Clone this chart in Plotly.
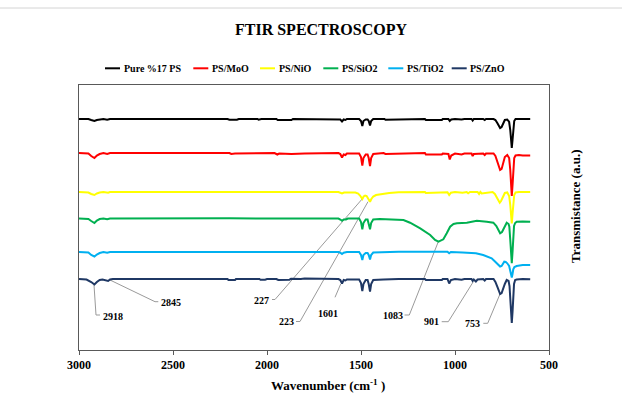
import plotly.graph_objects as go

# ---------------- data ----------------
series_names = ["Pure %17 PS", "PS/MoO", "PS/NiO", "PS/SiO2", "PS/TiO2", "PS/ZnO"]
series_colors = ["#000000", "#FF0000", "#FFFF00", "#00B050", "#00B0F0", "#1F3864"]

black_wn = [3000, 2950, 2935, 2918, 2905, 2890, 2870, 2850, 2835, 2210, 2200, 2160, 2150, 2050, 2045, 2030,
            1950, 1943, 1870, 1862, 1800, 1795, 1620, 1610, 1601, 1592, 1583, 1575, 1510, 1500, 1493, 1487,
            1475, 1465, 1459, 1452, 1446, 1435, 1375, 1370, 1160, 1155, 1070, 1065, 1035, 1028, 1020, 1000,
            965, 950, 912, 906, 900, 850, 842, 835, 795, 785, 775, 768, 760, 752, 745, 735, 722, 712, 706,
            702, 698, 694, 690, 685, 678, 660, 640, 600]
black_t = [231, 231, 230, 229, 230, 230.5, 231, 230.3, 231, 231, 230.3, 230.3, 231, 231, 230.3, 231,
           231, 230, 230, 231, 231, 230.5, 231, 230.5, 228.5, 230.5, 230, 231, 231, 229, 224, 229,
           230.5, 230.5, 229, 224.5, 229, 231, 231, 230.3, 231, 230, 230, 231, 231, 229, 230.5, 231,
           230.5, 231, 231, 229.5, 231, 231, 230, 231, 231, 230, 227, 224, 222, 223, 226, 230, 230.5, 228, 220,
           210, 202, 210, 222, 229, 231, 231, 231, 231]

red_wn = [3000, 2950, 2935, 2918, 2905, 2890, 2870, 2850, 2835, 2200, 2190, 2170, 1960, 1945, 1935, 1870,
          1800, 1620, 1610, 1601, 1592, 1583, 1575, 1510, 1500, 1493, 1487, 1475, 1465, 1459, 1452, 1446,
          1435, 1380, 1370, 1300, 1160, 1155, 1070, 1065, 1035, 1028, 1020, 1000, 965, 950, 912, 906, 900,
          850, 842, 835, 795, 785, 775, 768, 760, 752, 745, 735, 722, 712, 706, 702, 698, 694, 690, 685,
          678, 660, 640, 600]
red_t = [197, 196.5, 194, 192, 194.5, 196, 197, 196, 197, 197, 196, 196.5, 197, 195.5, 196.5, 196,
         196.5, 197, 196, 192.5, 195.5, 195, 196.5, 196.5, 193, 184.5, 192, 195.5, 195.5, 192, 184, 192,
         196, 197, 196, 196.5, 197, 195.5, 195.5, 196.5, 196, 190.5, 194.5, 196.5, 195.5, 196.5, 196.5, 194, 196,
         196.5, 195, 196.5, 196.5, 194, 188, 183, 180, 181, 186, 193, 195, 192, 180, 165, 154, 165, 182, 192,
         194.5, 195, 194.5, 194.5]

yellow_wn = [3000, 2950, 2935, 2918, 2905, 2890, 2870, 2845, 2835, 2200, 2160, 2100, 1940, 1935, 1800,
             1620, 1601, 1590, 1530, 1515, 1505, 1493, 1486, 1478, 1470, 1460, 1452, 1445, 1435, 1420, 1390,
             1350, 1300, 1160, 1155, 1040, 1031, 1022, 1000, 960, 938, 930, 920, 880, 872, 865, 858, 800,
             788, 775, 768, 762, 755, 745, 735, 722, 712, 706, 702, 698, 694, 690, 685, 678, 660, 600]
yellow_t = [158, 157.5, 156, 155, 156.5, 157.5, 158, 157.3, 158, 158, 157.5, 158, 158, 157.3, 157.5,
            158, 156.5, 157.5, 157.5, 156.5, 154.5, 151, 153.5, 154.5, 154, 151, 148.3, 151, 153.5, 155, 156,
            157, 157.7, 158, 157, 157.7, 155, 157.3, 158, 157.3, 158, 156.7, 158, 158, 156, 158, 156.5, 158,
            156, 151, 148, 147.3, 149, 154, 157, 157.5, 154, 145, 135, 126.7, 136, 148, 155, 157.5, 158, 158]

green_wn = [3000, 2950, 2935, 2918, 2905, 2890, 2870, 2850, 2835, 2600, 2400, 2200, 2000, 1620, 1610,
            1601, 1592, 1580, 1570, 1510, 1500, 1493, 1487, 1475, 1465, 1459, 1452, 1446, 1435, 1400, 1345,
            1274, 1239, 1185, 1132, 1106, 1088, 1062, 1044, 1026, 1008, 990, 937, 884, 831, 796, 780, 769,
            760, 750, 743, 735, 725, 715, 711, 706, 702, 698, 694, 690, 686, 680, 672, 640, 600]
green_t = [131.5, 131, 129, 127, 129.5, 131, 131.5, 130.8, 131.5, 131.8, 131.5, 131.8, 131.5, 131.5, 130.5,
           129.3, 130.5, 130.5, 131.5, 131.5, 128, 120.7, 127, 130.5, 130.5, 127, 120.7, 127, 130.5, 131, 130.5,
           130, 127.3, 121.7, 115, 110, 108.3, 110.7, 116.7, 123.3, 126, 126.7, 127.3, 129.3, 128.3, 127.3, 124, 120,
           116.7, 118, 120.7, 125, 127.3, 126, 123.3, 110, 97, 86.7, 98, 115, 124, 127, 128.3, 128.5, 128.3]

cyan_wn = [3000, 2950, 2935, 2918, 2905, 2890, 2870, 2850, 2835, 2200, 2150, 1900, 1800, 1620, 1610, 1601,
           1592, 1575, 1510, 1500, 1493, 1487, 1475, 1465, 1459, 1452, 1446, 1435, 1300, 1160, 1100, 1040,
           1031, 1022, 960, 889, 850, 805, 790, 775, 767, 760, 752, 745, 738, 730, 722, 712, 706, 702, 698,
           694, 690, 684, 672, 640, 600]
cyan_t = [98, 97.5, 95, 93.5, 95.5, 97, 98, 97.3, 98, 98.3, 98, 98.3, 98, 98, 97.3, 96,
          97.3, 98, 98, 95, 90, 95, 97, 97, 95, 90.5, 95, 97.5, 98.3, 98.3, 98.5, 98.3,
          96.7, 98, 97.5, 96.7, 95, 91.7, 89, 86, 84, 83.5, 84, 86, 88.3, 88, 86.7, 84, 80, 76, 72.5,
          76, 80.7, 83, 84, 85, 85]

navy_wn = [3000, 2960, 2935, 2918, 2905, 2890, 2875, 2860, 2845, 2835, 2820, 2210, 2205, 2170, 2165, 2040,
           2035, 2010, 2000, 1950, 1940, 1880, 1872, 1820, 1800, 1620, 1610, 1601, 1592, 1583, 1575, 1510,
           1500, 1493, 1487, 1475, 1465, 1459, 1452, 1446, 1435, 1380, 1300, 1160, 1155, 1070, 1065, 1040,
           1031, 1022, 1000, 965, 950, 912, 906, 900, 889, 880, 850, 842, 835, 795, 785, 775, 767, 760, 752,
           745, 735, 725, 715, 710, 706, 702, 698, 694, 690, 686, 680, 672, 640, 600]
navy_t = [71, 70.5, 68, 65.5, 68, 70, 70.5, 69.5, 69, 70.5, 71, 71, 70, 70, 71, 71,
          70.3, 70.3, 71, 71, 70, 70.3, 71.3, 71, 71.5, 71, 70, 66.5, 70, 69.5, 70.5, 70.5,
          67, 59, 66, 70, 70, 66, 58.3, 66, 70, 70.5, 71, 71, 70, 70, 71, 71,
          66.5, 70, 71, 70.3, 71, 71, 69, 70.5, 68.5, 70.5, 71, 69.5, 71, 71, 68, 63.3, 58, 56, 57,
          61, 66, 70, 69, 64, 50, 37, 27, 38, 55, 66, 70, 70.5, 71, 70.7]

series_wn = [black_wn, red_wn, yellow_wn, green_wn, cyan_wn, navy_wn]
series_t = [black_t, red_t, yellow_t, green_t, cyan_t, navy_t]

x_ticks = [3000, 2500, 2000, 1500, 1000, 500]

peak_labels = ["2918", "2845", "227", "223", "1601", "1083", "901", "753"]

# ---------------- layout helpers ----------------
W, H = 622, 405
ML, MR, MT, MB = 79, 73, 85, 55
PW, PH = W - ML - MR, H - MT - MB
X0, X1 = 3000, 500
Y0, Y1 = 0, 265

def px2x(px):
    return X0 - (px - ML) / PW * (X0 - X1)

def py2y(py):
    return Y0 + ((H - MB) - py) / PH * (Y1 - Y0)

def ppx(px):
    return (px - ML) / PW

def ppy(py):
    return ((H - MB) - py) / PH

SERIF = "Liberation Serif, Times New Roman, serif"

fig = go.Figure()
for name, col, wn, t in zip(series_names, series_colors, series_wn, series_t):
    fig.add_trace(go.Scatter(x=wn, y=t, mode="lines", name=name,
                             line=dict(color=col, width=2), showlegend=False))

shapes = []
annotations = []

# leader lines (pixel positions) and label positions
leaders = [
    [(94, 285), (96, 315), (100, 315)],
    [(110, 280), (155, 301.7), (158.3, 301.7)],
    [(272, 299.5), (275, 299.5), (363, 198)],
    [(296, 321.5), (300, 321.5), (368, 201.7)],
    [(335, 297.3), (340.7, 284)],
    [(404.5, 315), (409.3, 315), (438.3, 241.7)],
    [(441.7, 321.7), (448.3, 321.7), (473.3, 281.7)],
    [(483.3, 323.3), (487.7, 323.3), (500, 294)],
]
label_pos = [(113.3, 316.7), (171, 302.3), (261.7, 300), (286.7, 321.7),
             (328, 313), (392.5, 315), (431.7, 321.7), (472.5, 323.3)]

for pts in leaders:
    for (ax, ay), (bx, by) in zip(pts[:-1], pts[1:]):
        shapes.append(dict(type="line", xref="x", yref="y",
                           x0=px2x(ax), y0=py2y(ay), x1=px2x(bx), y1=py2y(by),
                           line=dict(color="#9a9a9a", width=1), layer="below"))

for txt, (lx, ly) in zip(peak_labels, label_pos):
    annotations.append(dict(x=px2x(lx), y=py2y(ly), xref="x", yref="y", text=f"<b>{txt}</b>",
                            showarrow=False, xanchor="center", yanchor="middle",
                            font=dict(family=SERIF, size=10, color="#000000")))

# manual legend
legend_lines = [(105, 120), (193.3, 208.3), (260, 275), (323.3, 338.3), (388.3, 403.3), (451.7, 466.7)]
legend_text_x = [121.7, 210, 276.7, 340, 405, 468.3]
LEG_Y = 68.3
for (a, b), tx, name, col in zip(legend_lines, legend_text_x, series_names, series_colors):
    shapes.append(dict(type="line", xref="paper", yref="paper", x0=ppx(a), x1=ppx(b),
                       y0=ppy(LEG_Y), y1=ppy(LEG_Y), line=dict(color=col, width=2)))
    annotations.append(dict(x=ppx(tx), y=ppy(LEG_Y), xref="paper", yref="paper", text=f"<b>{name}</b>",
                            showarrow=False, xanchor="left", yanchor="middle",
                            font=dict(family=SERIF, size=10, color="#000000")))

# axis titles
annotations.append(dict(x=ppx(328), y=ppy(385), xref="paper", yref="paper",
                        text="<b>Wavenumber (cm<sup>-1</sup> )</b>", showarrow=False,
                        xanchor="center", yanchor="middle",
                        font=dict(family=SERIF, size=13, color="#000000")))
annotations.append(dict(x=ppx(575), y=ppy(206), xref="paper", yref="paper",
                        text="<b>Transmistance (a.u.)</b>", showarrow=False, textangle=-90,
                        xanchor="center", yanchor="middle",
                        font=dict(family=SERIF, size=13, color="#000000")))

# outer chart border line at top
shapes.append(dict(type="line", xref="paper", yref="paper", x0=ppx(0), x1=ppx(W),
                   y0=ppy(8), y1=ppy(8), line=dict(color="#d4d4d4", width=1)))

fig.update_layout(
    width=W, height=H,
    margin=dict(l=ML, r=MR, t=MT, b=MB),
    paper_bgcolor="white", plot_bgcolor="white",
    title=dict(text="<b>FTIR SPECTROSCOPY</b>", x=321 / W, y=1 - 29 / H,
               xanchor="center", yanchor="middle",
               font=dict(family=SERIF, size=16, color="#000000")),
    xaxis=dict(range=[X0, X1], tickvals=x_ticks, ticktext=[str(v) for v in x_ticks],
               ticks="outside", ticklen=4, tickcolor="#595959", showgrid=False, zeroline=False,
               showline=True, linecolor="#595959", linewidth=1, mirror=True,
               tickfont=dict(family=SERIF, size=12, color="#000000", weight="bold")),
    yaxis=dict(range=[Y0, Y1], showticklabels=False, ticks="", showgrid=False, zeroline=False,
               showline=True, linecolor="#595959", linewidth=1, mirror=True),
    shapes=shapes, annotations=annotations, showlegend=False,
)

fig.write_html("out.html", config={"displayModeBar": False},
               post_script="document.body.style.margin='0';document.body.style.overflow='hidden';")
